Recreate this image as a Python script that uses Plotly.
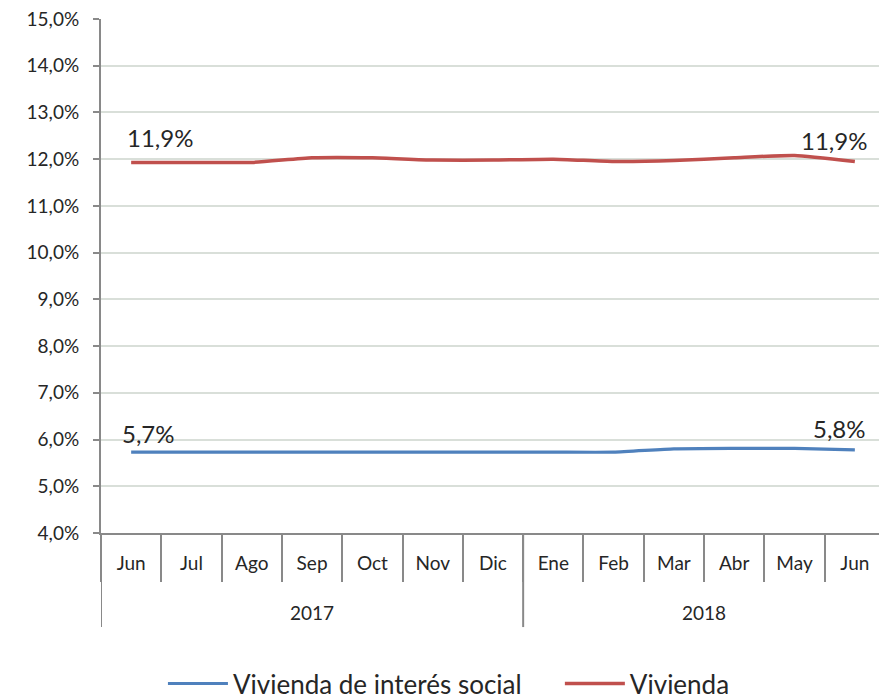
import plotly.graph_objects as go

years = ["2017"] * 7 + ["2018"] * 6
months = ["Jun", "Jul", "Ago", "Sep", "Oct", "Nov", "Dic", "Ene", "Feb", "Mar", "Abr", "May", "Jun"]
vis = [5.73, 5.73, 5.73, 5.73, 5.73, 5.73, 5.73, 5.73, 5.73, 5.80, 5.81, 5.81, 5.78]
viv = [11.93, 11.93, 11.93, 12.03, 12.03, 11.98, 11.98, 12.00, 11.95, 11.97, 12.03, 12.08, 11.95]
vis_labels = ["5,7%"] + [""] * 11 + ["5,8%"]
viv_labels = ["11,9%"] + [""] * 11 + ["11,9%"]
yticks = [4, 5, 6, 7, 8, 9, 10, 11, 12, 13, 14, 15]
yticktext = ["4,0%", "5,0%", "6,0%", "7,0%", "8,0%", "9,0%", "10,0%", "11,0%",
             "12,0%", "13,0%", "14,0%", "15,0%"]

FONT = "Lato, sans-serif"
TXT = "#262626"
AX = "#898989"
BLUE = "#4f81bd"
RED = "#c0504d"

# unique category keys (month + year) so both "Jun" stay in order
keys = [f"{m} {y}" for m, y in zip(months, years)]

fig = go.Figure()
fig.add_trace(go.Scatter(
    x=keys, y=vis, name="Vivienda de interés social" + "\u00a0" * 5, mode="lines",
    line=dict(color=BLUE, width=3.2, shape="spline", smoothing=0.5),
))
fig.add_trace(go.Scatter(
    x=keys, y=viv, name="Vivienda", mode="lines",
    line=dict(color=RED, width=3.5, shape="spline", smoothing=0.5),
))

# data labels (first and last points), offsets in pixels as in the reference
label_shift = {  # (series, first/last) -> (xshift, yshift)
    ("vis", "first"): (17, 19), ("vis", "last"): (-15, 21),
    ("viv", "first"): (29, 25), ("viv", "last"): (-21, 21),
}
for sname, vals, labels in (("vis", vis, vis_labels), ("viv", viv, viv_labels)):
    for i, lab in enumerate(labels):
        if not lab:
            continue
        which = "first" if i == 0 else "last"
        xs, ys = label_shift[(sname, which)]
        fig.add_annotation(x=keys[i], y=vals[i], xref="x", yref="y", text=lab,
                           showarrow=False, xanchor="center", yanchor="middle",
                           xshift=xs, yshift=ys,
                           font=dict(size=24, color=TXT, family=FONT))

# year group labels and dividers
groups = []
for i, y in enumerate(years):
    if not groups or groups[-1][0] != y:
        groups.append([y, i, i])
    else:
        groups[-1][2] = i
for y, i0, i1 in groups:
    fig.add_annotation(x=(i0 + i1) / 2, y=-0.154, xref="x", yref="paper", text=y,
                       showarrow=False, xanchor="center", yanchor="middle",
                       font=dict(size=19, color=TXT, family=FONT))
    fig.add_shape(type="line", xref="x", yref="paper", x0=i0 - 0.5, x1=i0 - 0.5,
                  y0=0, y1=-0.183, line=dict(color=AX, width=2))

# page body has an 8px margin: figure is 8px smaller so it fits the 887x700 window
fig.update_layout(
    width=879, height=692,
    margin=dict(l=93, r=2, t=11, b=167, autoexpand=False),
    paper_bgcolor="white", plot_bgcolor="white",
    font=dict(family=FONT, size=19, color=TXT),
    showlegend=True,
    legend=dict(orientation="h", x=0.079, xanchor="left", y=-0.293, yanchor="middle",
                font=dict(size=26, family=FONT, color=TXT), itemwidth=60,
                bgcolor="rgba(0,0,0,0)"),
    xaxis=dict(
        type="category", range=[-0.5, 12.5], automargin=False,
        tickvals=keys, ticktext=months,
        showline=True, linecolor=AX, linewidth=2,
        ticks="outside", tickson="boundaries", ticklen=47, tickcolor=AX, tickwidth=2,
        showgrid=False, tickfont=dict(size=19, family=FONT, color=TXT),
        ticklabelstandoff=12,
    ),
    yaxis=dict(
        range=[3.9999, 15.0001], tickvals=yticks, ticktext=yticktext, automargin=False,
        showline=True, linecolor=AX, linewidth=2,
        ticks="outside", ticklen=6, tickcolor=AX, tickwidth=2,
        showgrid=True, gridcolor="#d9dfd9", gridwidth=1.5, zeroline=False,
        tickfont=dict(size=19, family=FONT, color=TXT),
        ticklabelstandoff=10, ticklabeloverflow="allow",
    ),
)

fig.write_html("out.html")
